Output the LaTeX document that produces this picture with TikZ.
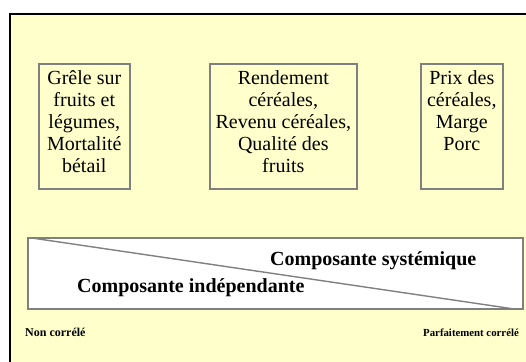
\documentclass[tikz,border=0pt]{standalone}
\usepackage{fontspec}
\setmainfont{Liberation Serif}
\usetikzlibrary{calc}
\definecolor{bgyellow}{HTML}{FFFFCC}
\definecolor{boxgray}{HTML}{808080}
\tikzset{
  frame/.style={draw=black, line width=2pt, fill=bgyellow},
  infobox/.style={draw=boxgray, line width=1.6pt, fill=bgyellow, inner sep=0pt, anchor=north west},
  bar/.style={draw=boxgray, line width=1.6pt, fill=white, inner sep=0pt, anchor=north west},
  diag/.style={draw=boxgray, line width=1.4pt},
  bigtxt/.style={font=\fontsize{20}{22}\selectfont\bfseries, inner sep=0pt, anchor=base west},
  smalltxt/.style={font=\fontsize{12}{14}\selectfont\bfseries, inner sep=0pt, anchor=base west}
}
\newcommand{\boxtext}[2]{\parbox[c][125pt][t]{#1}{\centering\fontsize{20}{22}\selectfont\vspace{7pt}#2}}
\begin{document}
\begin{tikzpicture}[x=1pt,y=-1pt]
\useasboundingbox (0,0) rectangle (526,361);
\clip (0,0) rectangle (526,361);
\draw[frame] (10,14) rectangle (545,380);
\node[infobox, minimum width=91pt, minimum height=125pt] (b1) at (38,63)
  {\boxtext{89pt}{Grêle sur\\ fruits et\\ légumes,\\ Mortalité\\ bétail}};
\node[infobox, minimum width=147pt, minimum height=125pt] (b2) at (209,63)
  {\boxtext{145pt}{Rendement\\ céréales,\\ Revenu céréales,\\ Qualité des\\ fruits}};
\node[infobox, minimum width=82pt, minimum height=125pt] (b3) at (420,63)
  {\boxtext{80pt}{Prix des\\ céréales,\\ Marge\\ Porc}};
\node[bar, minimum width=495pt, minimum height=71pt] (bar) at (27,237) {};
\draw[diag] ($(bar.north west)+(5,1)$) -- ($(bar.south east)+(-12,-1)$);
\node[bigtxt] (sys) at (270,265) {Composante systémique};
\node[bigtxt] (ind) at (77,292) {Composante indépendante};
\node[smalltxt] (nc) at (25,336) {Non corrélé};
\node[smalltxt, font=\fontsize{10.8}{13}\selectfont\bfseries] (pc) at (423,336) {Parfaitement corrélé};
\end{tikzpicture}
\end{document}
